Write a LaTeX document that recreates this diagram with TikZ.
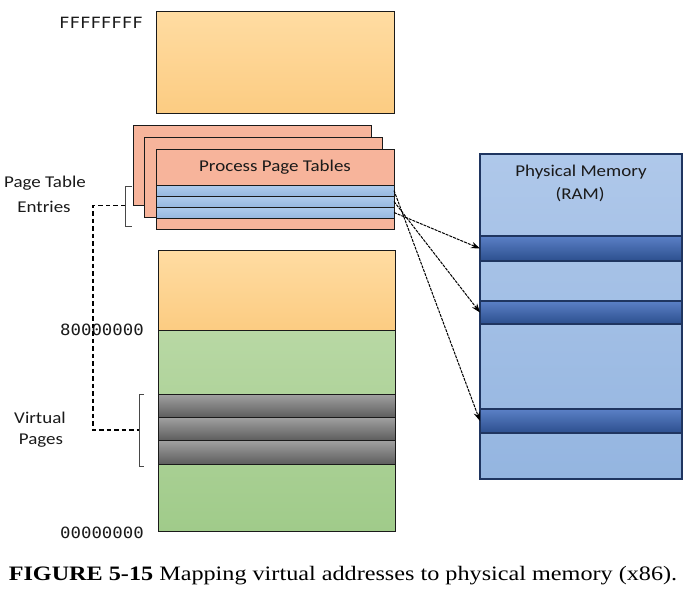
\documentclass[tikz,border=0pt]{standalone}
\usepackage{fontspec}
\setmainfont{Liberation Serif}
\newfontfamily\calib{Carlito}
\newfontfamily\hexfont{DejaVu Sans Mono}
\usetikzlibrary{arrows.meta}
\definecolor{orT}{HTML}{FFDCA2}
\definecolor{orB}{HTML}{FCCC82}
\definecolor{grT}{HTML}{B8D8A4}
\definecolor{grB}{HTML}{A0CB8A}
\definecolor{gyT}{HTML}{A2A2A2}
\definecolor{gyB}{HTML}{5E5E5E}
\definecolor{salmon}{HTML}{F7B49B}
\definecolor{entT}{HTML}{AECBEC}
\definecolor{entB}{HTML}{97B8E0}
\definecolor{pmT}{HTML}{AFC8EA}
\definecolor{pmB}{HTML}{94B5E0}
\definecolor{bdT}{HTML}{5B80C6}
\definecolor{bdB}{HTML}{2C4F8E}
\definecolor{navy}{HTML}{1F3560}
\definecolor{ink}{HTML}{1A1A1A}
\begin{document}
\begin{tikzpicture}[x=1pt,y=-1pt,
  box/.style={draw=ink, line width=0.9pt, inner sep=0pt, outer sep=0pt, anchor=north west},
  orangebox/.style={box, top color=orT, bottom color=orB},
  greenbox/.style={box, top color=grT, bottom color=grB},
  graybox/.style={box, top color=gyT, bottom color=gyB},
  sheet/.style={box, fill=salmon},
  entry/.style={box, top color=entT, bottom color=entB},
  pmbox/.style={box, draw=navy, line width=1.1pt, top color=pmT, bottom color=pmB},
  pmband/.style={box, draw=navy, line width=1.1pt, top color=bdT, bottom color=bdB},
  lbl/.style={font=\calib\fontsize{16.5}{19}\selectfont, text=ink, inner sep=0pt, xscale=1.15},
  hex/.style={font=\hexfont\fontsize{15.5}{18}\selectfont, text=ink, inner sep=0pt, anchor=east, xscale=1.12},
  brk/.style={draw=ink!80, line width=0.8pt},
  link/.style={draw=black, line width=1.6pt, dash pattern=on 4.5pt off 3pt},
  map/.style={draw=black, line width=1pt, dash pattern=on 3pt off 1pt, -{Stealth[length=9pt,width=6.5pt]}},
]
\useasboundingbox (0,0) rectangle (685,592);

% virtual address space
\node[orangebox, minimum width=238pt, minimum height=102pt] (top) at (156,11) {};
\node[orangebox, minimum width=237pt, minimum height=80pt] (kern) at (158,250) {};
\node[greenbox, minimum width=237pt, minimum height=201pt] (user) at (158,330) {};
\node[graybox, minimum width=237pt, minimum height=23pt] (vp1) at (158,394) {};
\node[graybox, minimum width=237pt, minimum height=23pt] (vp2) at (158,417) {};
\node[graybox, minimum width=237pt, minimum height=24pt] (vp3) at (158,440) {};

% page tables
\node[sheet, minimum width=238pt, minimum height=80pt] (pt3) at (133,125) {};
\node[sheet, minimum width=238pt, minimum height=80pt] (pt2) at (144,137) {};
\node[sheet, minimum width=238pt, minimum height=80pt] (pt1) at (156,149) {};
\node[entry, minimum width=238pt, minimum height=11pt] (e1) at (156,185) {};
\node[entry, minimum width=238pt, minimum height=11pt] (e2) at (156,196) {};
\node[entry, minimum width=238pt, minimum height=11pt] (e3) at (156,207) {};
\node[lbl] (pttitle) at (275,167) {Process Page Tables};

% physical memory
\node[pmbox, minimum width=202pt, minimum height=325pt] (pm) at (480,154) {};
\node[pmband, minimum width=202pt, minimum height=25pt] (b1) at (480,236) {};
\node[pmband, minimum width=202pt, minimum height=23pt] (b2) at (480,301) {};
\node[pmband, minimum width=202pt, minimum height=24pt] (b3) at (480,409) {};
\node[lbl] (pmt1) at (581,172) {Physical Memory};
\node[lbl] (pmt2) at (580,195) {(RAM)};

% labels
\node[hex] (hF) at (143,23) {FFFFFFFF};
\node[hex] (h8) at (144,330) {80000000};
\node[hex] (h0) at (144,533) {00000000};
\node[lbl] (pte1) at (45,183) {Page Table};
\node[lbl] (pte2) at (44,207) {Entries};
\node[lbl] (vpl1) at (40,418) {Virtual};
\node[lbl] (vpl2) at (41,441) {Pages};

% brackets
\coordinate (pteMid) at (125,205.5);
\coordinate (vpMid) at (139,430);
\coordinate (corner) at (93,205.5);
\draw[brk] (132,186) -- (125,186) -- (125,226) -- (132,226);
\draw[brk] (144,394.5) -- (139,394.5) -- (139,466) -- (144,466);
\draw[link] (pteMid) -- (corner) |- (vpMid);

% mapping arrows
\draw[map] (e3.east) -- (b1.west);
\draw[map] (e2.east) -- (b2.west);
\draw[map] (e1.east) -- (b3.west);

% caption
\node[inner sep=0pt, font=\fontsize{20.5}{24}\selectfont, xscale=1.18] (cap) at (343,576) {\textbf{FIGURE 5-15} Mapping virtual addresses to physical memory (x86).};
\end{tikzpicture}
\end{document}
